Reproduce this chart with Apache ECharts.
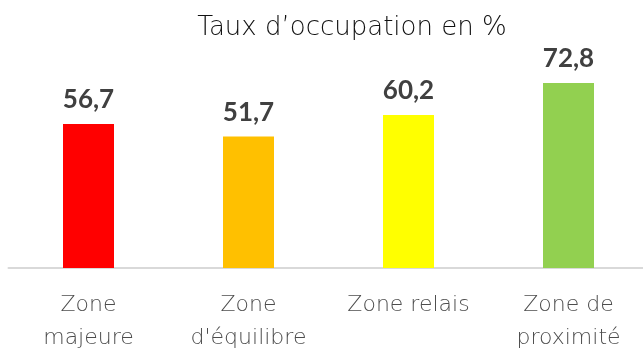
<!DOCTYPE html>
<html>
<head>
<meta charset="utf-8">
<script src="https://cdn.jsdelivr.net/npm/echarts@6/dist/echarts.min.js"></script>
<style>
  html, body { margin: 0; padding: 0; background: #fff; }
  #chart { width: 643px; height: 355px; }
</style>
</head>
<body>
<div id="chart"></div>
<script>
// Occupancy rate per zone type
const categories = ['Zone\nmajeure', "Zone\nd'équilibre", 'Zone relais', 'Zone de\nproximité'];
const values = [56.7, 51.7, 60.2, 72.8];
const barColors = ['#ff0000', '#ffc000', '#ffff00', '#92d050'];

const chart = echarts.init(document.getElementById('chart'), null, { renderer: 'canvas' });

chart.setOption({
  animation: false,
  backgroundColor: '#ffffff',
  title: {
    text: 'Taux d\u2019occupation en %',
    left: 347,
    textAlign: 'center',
    top: 10,
    textStyle: { fontFamily: 'DejaVu Sans', fontWeight: 200, fontSize: 26, color: '#111111' }
  },
  grid: { left: 8.5, width: 640, top: 83, bottom: 87, outerBoundsMode: 'none' },
  xAxis: {
    type: 'category',
    data: categories,
    axisLine: { show: true, lineStyle: { color: '#d9d9d9', width: 2 } },
    axisTick: { show: false },
    axisLabel: {
      interval: 0,
      margin: 21,
      fontFamily: 'DejaVu Sans',
      fontWeight: 200,
      fontSize: 22,
      lineHeight: 33,
      color: '#4d4d4d'
    }
  },
  yAxis: {
    type: 'value',
    min: 0,
    max: 72.8,
    show: false,
    splitLine: { show: false }
  },
  series: [{
    type: 'bar',
    barWidth: 51,
    data: values.map((v, i) => ({ value: v, itemStyle: { color: barColors[i] } })),
    label: {
      show: true,
      position: 'top',
      distance: 11,
      formatter: p => p.value.toFixed(1).replace('.', ','),
      fontFamily: 'Lato',
      fontWeight: 'bold',
      fontSize: 26,
      color: '#404040'
    }
  }]
});
</script>
</body>
</html>
